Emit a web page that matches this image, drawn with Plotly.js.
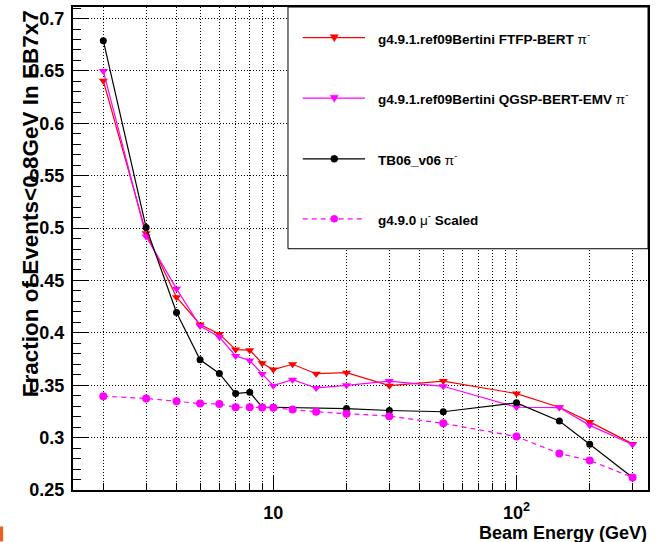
<!DOCTYPE html>
<html>
<head>
<meta charset="utf-8">
<script src="https://cdn.plot.ly/plotly-3.0.1.min.js"></script>
<style>html,body{margin:0;padding:0;background:#fff;}#chart{width:658px;height:542px;}</style>
</head>
<body>
<div id="chart"></div>
<script>
// ---- data ----
var energyModel = [2, 3, 4, 5, 6, 7, 8, 9, 10, 12, 15, 20, 30, 50, 100, 150, 200, 300];
var ftfpBert   = [0.6406, 0.495, 0.434, 0.408, 0.399, 0.384, 0.3835, 0.371, 0.365, 0.370, 0.361, 0.362, 0.3496, 0.354, 0.342, 0.329, 0.315, 0.294];
var qgspBertEmv = [0.650, 0.492, 0.442, 0.4065, 0.396, 0.378, 0.3736, 0.3607, 0.3496, 0.3553, 0.3474, 0.3499, 0.354, 0.349, 0.329, 0.3287, 0.3117, 0.2934];
var energyTB = [2, 3, 4, 5, 6, 7, 8, 9, 10, 20, 30, 50, 100, 150, 200, 300];
var tb06      = [0.6788, 0.5005, 0.4195, 0.3743, 0.3613, 0.342, 0.3433, 0.329, 0.329, 0.3277, 0.3259, 0.3247, 0.3332, 0.3158, 0.2936, 0.262];
var muScaled  = [0.3395, 0.3373, 0.3347, 0.3325, 0.3322, 0.329, 0.329, 0.3288, 0.3285, 0.3268, 0.3247, 0.3228, 0.3205, 0.3136, 0.301, 0.2848, 0.2782, 0.262];

var seriesNames = [
  'g4.9.1.ref09Bertini FTFP-BERT <span style="font-weight:normal">π<sup>-</sup></span>',
  'g4.9.1.ref09Bertini QGSP-BERT-EMV <span style="font-weight:normal">π<sup>-</sup></span>',
  'TB06_v06 <span style="font-weight:normal">π<sup>-</sup></span>',
  'g4.9.0 <span style="font-weight:normal">μ<sup>-</sup></span> Scaled'
];

var xMajorVals = [10, 100];
var xMajorText = ['10', '10<sup>2</sup>'];
var xMinorVals = [2, 3, 4, 5, 6, 7, 8, 9, 20, 30, 40, 50, 60, 70, 80, 90, 200, 300];
var yTickVals = [0.25, 0.3, 0.35, 0.4, 0.45, 0.5, 0.55, 0.6, 0.65, 0.7];
var yTickText = ['0.25', '0.3', '0.35', '0.4', '0.45', '0.5', '0.55', '0.6', '0.65', '0.7'];

var xTitle = 'Beam Energy (GeV)';
var yTitle = 'Fraction of Events&lt;0.8GeV In EB7x7';

// ---- styling ----
var FONT = 'Liberation Sans, Arial, Helvetica, sans-serif';
var RED = '#ff0000', MAG = '#ff00ff', BLK = '#000000';

var traces = [
  {x: energyModel, y: ftfpBert, mode: 'lines+markers', name: 'FTFP',
   line: {color: RED, width: 1.2}, marker: {symbol: 'triangle-down', size: 8, color: RED}},
  {x: energyModel, y: qgspBertEmv, mode: 'lines+markers', name: 'QGSP',
   line: {color: MAG, width: 1.2}, marker: {symbol: 'triangle-down', size: 8, color: MAG}},
  {x: energyTB, y: tb06, mode: 'lines+markers', name: 'TB06',
   line: {color: BLK, width: 1.2}, marker: {symbol: 'circle', size: 7, color: BLK}},
  {x: energyModel, y: muScaled, mode: 'lines+markers', name: 'mu',
   line: {color: MAG, width: 1.2, dash: '5px,4px'}, marker: {symbol: 'circle', size: 8, color: MAG}}
];

// legend geometry (paper coordinates)
var legX0 = 0.3995, legX1 = 0.5078, legXM = 0.4544, legXT = 0.527;
var legY = [0.9365, 0.8112, 0.6856, 0.5615];
var legColors = [RED, MAG, BLK, MAG];
var legDash = ['solid', 'solid', 'solid', 'dash'];
var legSym = ['tri', 'tri', 'dot', 'dot'];

var shapes = [
  {type: 'rect', xref: 'paper', yref: 'paper', x0: 0.3739, x1: 1.0, y0: 0.4995, y1: 1.0,
   fillcolor: '#ffffff', line: {color: '#000', width: 1}, layer: 'above'},
  {type: 'rect', xref: 'paper', yref: 'paper', x0: -0.127, x1: -0.1215, y0: -0.1065, y1: -0.0755,
   fillcolor: '#e8621f', line: {width: 0}, layer: 'above'}
];
var annotations = [];
for (var i = 0; i < 4; i++) {
  shapes.push({type: 'line', xref: 'paper', yref: 'paper', x0: legX0, x1: legX1, y0: legY[i], y1: legY[i],
    line: {color: legColors[i], width: 1.2, dash: legDash[i] === 'dash' ? '5px,4px' : 'solid'}, layer: 'above'});
  if (legSym[i] === 'tri') {
    shapes.push({type: 'path', xref: 'paper', yref: 'paper', xsizemode: 'pixel', ysizemode: 'pixel',
      xanchor: legXM, yanchor: legY[i], path: 'M-4,3 L4,3 L0,-4 Z',
      fillcolor: legColors[i], line: {color: legColors[i], width: 0.5}, layer: 'above'});
  } else {
    shapes.push({type: 'circle', xref: 'paper', yref: 'paper', xsizemode: 'pixel', ysizemode: 'pixel',
      xanchor: legXM, yanchor: legY[i], x0: -3.5, x1: 3.5, y0: -3.5, y1: 3.5,
      fillcolor: legColors[i], line: {color: legColors[i], width: 0.5}, layer: 'above'});
  }
  annotations.push({xref: 'paper', yref: 'paper', x: legXT, y: legY[i], xanchor: 'left', yanchor: 'middle',
    text: seriesNames[i], showarrow: false, font: {family: FONT, size: 13.5, color: '#000', weight: 'bold'}});
}
annotations.push({xref: 'paper', yref: 'paper', x: 1.0017, y: -0.089, xanchor: 'right', yanchor: 'middle',
  text: xTitle, showarrow: false, font: {family: FONT, size: 18, color: '#000', weight: 'bold'}});
annotations.push({xref: 'paper', yref: 'paper', x: -0.075, y: 0.5936, xanchor: 'center', yanchor: 'middle',
  textangle: -90, text: yTitle, showarrow: false, font: {family: FONT, size: 22.5, color: '#000', weight: 'bold'}});

var layout = {
  width: 658, height: 542,
  margin: {l: 73, r: 10, t: 7, b: 52, pad: 0},
  paper_bgcolor: '#fff', plot_bgcolor: '#fff',
  showlegend: false,
  xaxis: {
    type: 'log', range: [0.1764, 2.5407],
    tickmode: 'array', tickvals: xMajorVals, ticktext: xMajorText,
    ticks: 'inside', ticklen: 15, tickwidth: 1, tickcolor: '#000',
    showgrid: true, gridcolor: '#000', gridwidth: 1, griddash: '1px,2px',
    showline: true, linecolor: '#000', linewidth: 2, mirror: true, zeroline: false,
    tickfont: {family: FONT, size: 18, color: '#000', weight: 'bold'},
    ticklabelstandoff: 5,
    minor: {tickmode: 'array', tickvals: xMinorVals, ticks: 'inside', ticklen: 7, tickcolor: '#000', tickwidth: 1,
            showgrid: true, gridcolor: '#000', gridwidth: 1, griddash: '1px,2px'}
  },
  yaxis: {
    range: [0.25, 0.711],
    tickmode: 'array', tickvals: yTickVals, ticktext: yTickText,
    ticks: 'inside', ticklen: 16, tickwidth: 1, tickcolor: '#000',
    showgrid: true, gridcolor: '#000', gridwidth: 1, griddash: '1px,2px',
    showline: true, linecolor: '#000', linewidth: 2, mirror: true, zeroline: false,
    tickfont: {family: FONT, size: 18, color: '#000', weight: 'bold'},
    ticklabelstandoff: 3,
    minor: {dtick: 0.01, tick0: 0.25, ticks: 'inside', ticklen: 8, tickcolor: '#000', tickwidth: 1, showgrid: false}
  },
  shapes: shapes,
  annotations: annotations
};

Plotly.newPlot('chart', traces, layout, {staticPlot: true, displayModeBar: false});
</script>
</body>
</html>
